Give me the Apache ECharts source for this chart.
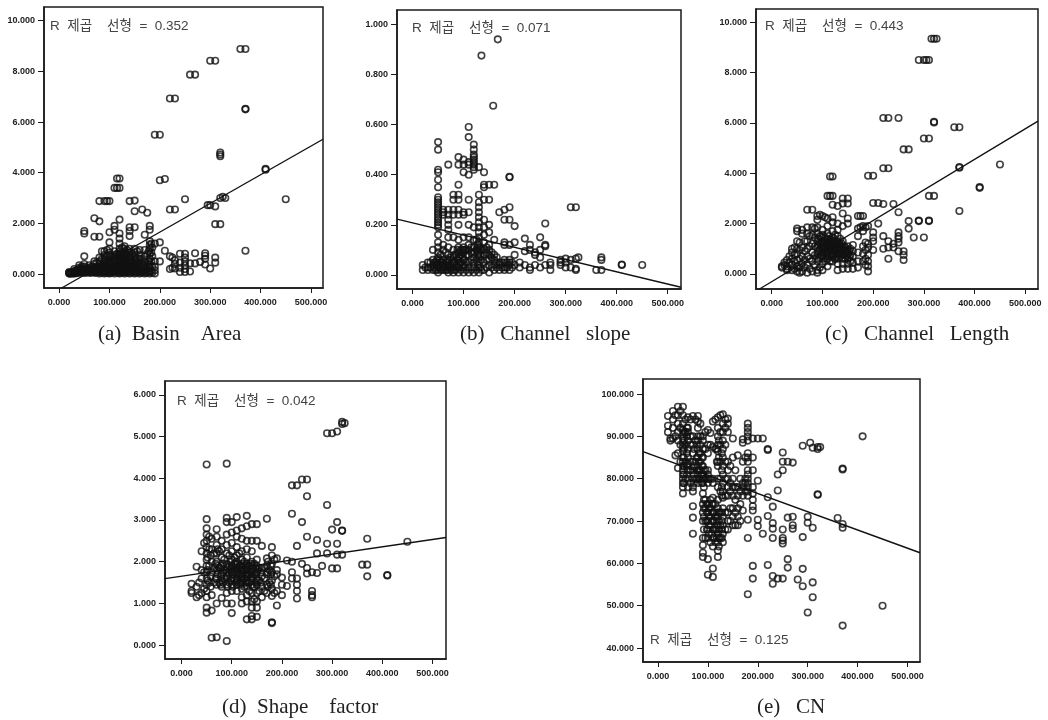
<!DOCTYPE html>
<html><head><meta charset="utf-8">
<style>html,body{margin:0;padding:0;background:#fff}#c{width:1048px;height:720px}</style>
<script src="https://cdn.jsdelivr.net/npm/echarts@6/dist/echarts.min.js"></script>
</head><body><div id="c"></div>
<script>
// each row: x value, then the y values read at that x
const basinArea = [
[20,.02,.05,.08],[25,.03,.06],[30,.02,.08,.12,.2],[35,.03,.1,.16],[40,.05,.15,.25,.35],[45,.05,.2,.3],
[50,.05,.12,.2,.3,.4,.7,1.6,1.7],[55,.1,.2],[60,.05,.15,.25,.35],[65,.1,.2,.3],[70,.05,.15,.25,.4,.5,1.47,2.2],[75,.1,.3,.45],
[80,.02,.12,.22,.35,.5,.65,1.47,2.08,2.88],[85,.05,.3,.6,.9],[90,.02,.1,.2,.3,.45,.6,.75,.9,2.88],[95,.1,.35,.7,.95,2.88],
[100,.02,.12,.25,.4,.55,.7,.85,1,1.25,1.65,2.88],[105,.1,.3,.5,.7],[110,.02,.15,.3,.45,.6,.75,.9,1.75,1.9,3.4],[115,.2,.5,.8,3.4,3.77],
[120,.02,.1,.2,.3,.4,.5,.6,.7,.8,.9,1,1.2,1.4,1.6,2.15,3.4,3.77],[125,.05,.25,.45,.65,.85,1.05],
[130,.02,.1,.2,.3,.4,.5,.6,.7,.8,.9,1,1.1],[135,.05,.25,.5,.75,.95],[140,.02,.12,.25,.4,.55,.7,.85,1,1.5,1.7,1.85,2.88],[145,.1,.3,.5,.8],
[150,.02,.12,.25,.4,.55,.7,.85,1,1.85,2.48,2.9],[155,.1,.35,.6,.9],[160,.02,.15,.3,.45,.6,.75,.95],[165,.1,.4,2.55],
[170,.02,.15,.3,.5,.7,.95,1.55],[175,.1,.4,.8,2.42],[180,.02,.12,.25,.4,.6,.8,1,1.15,1.3,1.75,1.9],[185,.05,.3,.7,1.05],
[190,.02,.15,.3,.5,1.2],[200,.5,1.25],[210,.92,3.75],[200,3.7],[220,.2,.7,2.55,6.93],[225,.25,.65],[230,.22,.4,.55,2.55,6.93],
[240,.08,.25,.45,.8],[250,.08,.2,.35,.5,.65,.8,2.95],[260,.1,.42,7.87],[270,.42,.82,7.87],[280,.48],[290,.38,.6,.72,.82],[300,.22,2.72,8.42],
[310,.45,.65,2.67,1.97,8.42],[295,2.72],[320,1.97,3,4.65,4.72,4.8],[325,3.05],[330,3],[190,5.5],[200,5.5],[360,8.88],[370,8.88,6.52,6.5,.92],
[410,4.15,4.12],[450,2.95],
[22,.01,.04],[28,.02,.06],[33,.05,.12],[38,.08,.18],[43,.1,.22],[48,.08,.25],[53,.05,.15],[58,.08,.22],[63,.05,.18],[68,.08,.2],[73,.05,.2],[78,.08,.25],
[83,.08,.2],[88,.1,.4],[93,.05,.25,.55],[98,.05,.2,.5],[103,.05,.2,.4],[108,.08,.25,.55],[113,.08,.35,.65],[118,.05,.15,.35,.75],[123,.1,.3,.55],[128,.08,.35,.6],
[133,.12,.4,.8],[138,.1,.35,.65],[143,.05,.2,.45,.7],[148,.08,.35],[153,.05,.2,.5],[158,.08,.4],[163,.05,.25,.6],[168,.08,.35],[173,.05,.2],[178,.08,.3,.5,.9],[183,.12,.5,.85,1.2]
];
const channelSlope = [
[20,.02,.04],[30,.02,.03,.05],[40,.02,.04,.06,.1],
[50,.01,.03,.05,.07,.09,.11,.13,.16,.19,.2,.21,.22,.23,.24,.25,.26,.27,.28,.29,.3,.31,.35,.38,.41,.42,.5,.53],
[60,.02,.04,.06,.1,.12,.24,.25,.26],[70,.01,.03,.05,.08,.11,.15,.18,.2,.22,.24,.26,.44],
[80,.01,.03,.05,.07,.1,.15,.24,.26,.3,.32],[90,.01,.03,.05,.07,.09,.11,.14,.2,.24,.26,.3,.32,.36,.44,.47],
[100,.01,.03,.06,.09,.11,.15,.24,.25,.41,.44,.46],[110,.01,.03,.05,.08,.1,.12,.15,.2,.25,.3,.4,.44,.45,.55,.59],
[120,.01,.03,.05,.07,.09,.11,.14,.19,.42,.43,.44,.45,.46,.47,.48,.5,.52],[125,.02,.06,.1,.14],
[130,.01,.03,.05,.07,.09,.11,.13,.15,.17,.19,.21,.23,.25,.27,.29,.32,.43],[135,.02,.06,.1,.875],
[140,.02,.05,.08,.1,.13,.16,.19,.22,.3,.35,.36,.41],[150,.01,.04,.06,.08,.1,.12,.17,.2,.3,.36],[155,.03,.07,.09],
[160,.02,.04,.06,.08,.14,.36],[158,.675],[167,.94],[170,.02,.04,.05,.25],[180,.02,.03,.05,.06,.12,.13,.22,.26],
[190,.02,.04,.05,.06,.12,.22,.27,.39,.392],[200,.04,.08,.13,.195],[210,.03,.05],[220,.04,.095,.145],[230,.02,.03,.1,.12],
[240,.04,.08,.09],[250,.03,.07,.1,.15],[260,.04,.115,.12,.205],[270,.02,.04,.05],[290,.04,.05,.06],[300,.03,.05,.065],
[310,.03,.06,.27],[320,.02,.025,.065,.27],[325,.07],[360,.02],[370,.02,.06,.07],[410,.04,.042],[450,.04],
[25,.03],[35,.03,.05],[45,.02,.05],[55,.02,.05,.08],[65,.02,.05,.09],[75,.02,.04,.07],[85,.02,.04,.08],[95,.02,.05,.08,.1],[105,.02,.05,.08,.1],[115,.02,.06,.09,.11],
[128,.04,.08,.1,.12],[133,.03,.08,.11],[145,.03,.06,.09,.11],[165,.03,.05,.07],[175,.03,.05],[185,.03,.05],[195,.03,.05],
[43,.03,.05],[48,.02,.04,.06],[53,.03,.06],[58,.03,.05],[63,.03,.04],[68,.02,.04,.06],[72,.03,.06],[78,.03,.05],[82,.02,.05,.08],[88,.03,.06,.1],[92,.04,.07],[98,.04,.07,.1],[102,.04,.1]
];
const channelLength = [
[20,.3,.25],[25,.35,.45],[30,.2,.3,.55,.15],[35,.45,.7],[40,.15,.35,.6,.85,1],[45,.2,.5,.75,1.05],
[50,.1,.3,.55,.8,1,1.3,1.7,1.8],[55,.05,.25,.6,.95,1.25],[60,.1,.4,.7,1.05,1.6,1.75],[65,.25,.55,.9,1.3],
[70,.05,.35,.7,1,1.3,1.6,1.85,2.55],[75,.2,.6,1.1,1.5],[80,.1,.5,.85,1.2,1.55,1.85,2.55],[85,.35,.75,1.1,1.45,1.8],
[90,.05,.15,.5,.8,1.05,1.3,1.6,1.85,2.15,2.3],[95,.25,.65,.95,1.2,1.5,2.35],[100,.15,.4,.7,.9,1.1,1.3,1.55,1.75,2.3],[105,.5,.85,1.05,1.25,1.45,2.25],
[110,.3,.6,.8,.95,1.1,1.25,1.4,1.6,1.9,2.2,3.1],[115,.5,.75,1,1.2,1.35,3.1,3.87],[120,.5,.65,.8,.95,1.1,1.25,1.45,1.7,2.05,2.25,2.75,3.1,3.87],
[125,.6,.85,1.05,1.3,1.55],[130,.15,.4,.6,.8,1,1.15,1.3,1.5,1.75,2.7,2],[135,.7,.9,1.1,1.4],[140,.2,.4,.6,.8,.95,1.1,1.3,1.9,2.8,3,2.4],
[145,.6,.85,1.05],[150,.2,.4,.6,.8,.95,1.1,2,2.2,2.8,3],[155,.5,.75,1],[160,.2,.45,.7,.9,1.15],[170,.25,.5,.85,1.5,1.8,2.3],[175,2.3,1.85],[180,.5,.8,1.1,1.7,1.9,2.3],
[185,.35,.6,.95,1.25,1.85],[190,.1,.3,.5,.75,1.05,1.2,1.9,3.9],[200,.95,1.3,1.45,1.65,2.82,3.9],[210,2,2.82],[220,1,1.5,2.78,4.2,6.2],[230,.6,1.05,1.3,4.2,6.2],
[240,1.05,1.2,2.78],[250,.9,1.25,1.4,1.5,1.65,2.45,6.2],[260,.55,.75,.9,4.95],[270,1.8,2.1,4.95],[280,1.45],[290,2.1,2.12,8.5],[300,1.45,5.38,8.5],
[305,8.5],[310,2.1,2.12,3.1,5.38,8.5],[315,9.35],[320,3.1,6.05,6.02,9.35],[325,9.35],[360,5.83],[370,5.83,4.25,4.22,2.5],[410,3.45,3.42],[450,4.35],
[92,.6,.9,1.15,1.4],[98,.75,1,1.25,1.45],[102,.6,.85,1.05,1.2],[108,.7,.95,1.15,1.35],[112,.85,1.05,1.2,1.5],[118,.7,.9,1.05,1.3],[123,.75,.95,1.15,1.4],[128,.7,.9,1.05,1.2],[133,.8,1,1.2],[138,.8,1,1.2],[143,.75,.95,1.1],[148,.7,.9],[153,.65,.9]
];
const shapeFactor = [
[20,1.3,1.25,1.47],[30,1.15,1.4,1.88],[35,1.2,1.5],[40,1.25,1.6,1.8,2.25],[45,1.35,1.75,2.45],
[50,.78,.9,1.15,1.3,1.45,1.6,1.75,1.9,2.05,2.2,2.35,2.5,2.65,2.8,3.02,4.33],[55,1.5,1.9,2.3,2.6],[60,.83,.18,1.2,1.75,2,2.3,2.55],
[70,.19,1,1.45,1.6,1.8,2,2.2,2.4,2.6,2.78],[75,1.5,1.85,2.25],[80,1.13,1.4,1.55,1.7,1.9,2.1,2.3,2.5],[85,1.6,1.8,2.05],
[90,.1,1,1.25,1.45,1.6,1.75,1.95,2.2,2.4,2.65,2.95,3.05,4.35],[95,1.5,1.7,1.9,2.15],[100,.77,1,1.3,1.45,1.6,1.75,1.9,2.05,2.25,2.45,2.7,2.95],
[105,1.55,1.75,1.95,2.1],[110,1.3,1.45,1.6,1.7,1.85,2,2.15,2.35,2.6,2.75,3.07],[115,1.5,1.7,1.9,2.2],
[120,1,1.15,1.35,1.5,1.6,1.7,1.8,1.9,2.05,2.25,2.55,2.8],[125,1.4,1.6,1.8,2],[130,.62,1.05,1.2,1.4,1.55,1.65,1.75,1.85,1.95,2.1,2.3,2.5,2.85,3.1],
[135,1.3,1.5,1.7,1.9],[140,.62,.7,.9,1.05,1.25,1.45,1.6,1.75,1.9,2,2.25,2.5,2.9],[145,1.1,1.4,1.7,1.95],[150,.68,.9,1.05,1.25,1.45,1.6,1.75,1.9,2.05,2.5,2.9],
[155,1.3,1.55,1.85],[160,1.15,1.4,1.65,1.85,2.38],[170,1.25,1.45,1.7,1.9,2.08,3.03],[175,1.5,1.8],[180,.55,.53,1.18,1.35,1.55,1.75,1.95,2.15,2.35],[185,1.25,1.65,2.05],
[190,.95,1.3,1.7,1.8,2.08],[200,1.2,1.45,1.62],[210,1.42,2.03],[220,1.6,1.75,2,3.15,3.83],[230,1.12,1.3,1.45,1.6,2.38,3.83],[240,1.95,2.95,3.97],
[250,1.72,1.85,2.6,3.57,3.97],[260,1.15,1.2,1.3,1.75],[270,1.73,2.2,2.52],[280,1.9],[290,2.2,2.43,3.36,5.08],[300,1.84,2.77,5.08],[310,1.84,2.17,2.43,2.95,5.12],
[320,2.17,2.75,2.74,5.3,5.35],[325,5.32],[360,1.93],[370,1.65,1.93,2.55],[410,1.67,1.68],[450,2.48],
[92,1.4,1.65,1.85],[98,1.55,1.8,2],[102,1.4,1.7,1.85],[108,1.5,1.8,1.95],[112,1.55,1.75,1.95],[118,1.45,1.65,1.85],[122,1.55,1.75,1.95],[128,1.5,1.7,1.9],[132,1.5,1.7,1.8],[138,1.55,1.75,1.95],[142,1.4,1.65,1.85],[148,1.5,1.7,1.85],
[52,1.55,1.8,2.1],[58,1.4,1.65,2.15],[65,1.5,1.85,2.2],[68,1.6,1.95],[72,1.7,1.9,2.3],[78,1.45,1.65,1.85],[82,1.5,1.75,1.95],[152,1.55,1.8],[158,1.5,1.75],[165,1.3,1.6,1.85],[172,1.4,1.75,2],[178,1.45,1.7,1.9]
];
const curveNumber = [
[20,91,92.5,94.8],[25,89,89.5],[30,89.5,92,94,96],[35,85.5,90,95],[40,82.5,86,89,91,93,95,97],[45,84,88,92,96],
[50,76.5,78,79,80,81,82,83,84,85,86.5,87.5,88.5,89.5,90.5,91.5,93,95,97],[55,80,84,88,91,94],
[60,78,80,82,83.5,85,87,89,91,92,94.5],[65,79,82,84,88,90,94],[70,67,70.8,73.5,77,78,80,82,84,86,88,90,94.8],[75,80,84,89,94],
[80,79,81,83,85,87,89,90,92,93.5,94.8],[85,80,82,84,86,88,90,93],[90,61.5,62.5,64.3,66,70,72,74,76.5,79,80,81,83,85,87,89,90],[95,66,70,73,75,80,82,87,91],
[100,61,57.3,66,68,70,72,74,79,80,81,82,86,88,91.5],[105,65,69,71,73,75,80,88,90.8],[110,58.8,56.8,64,66,68,70,72,74,75.5,79,80,87.5,93.5],
[115,65,68,71,74,87,94],[120,61.5,63,65,67,69,71,73,75,78,80,83,84,86.5,88,90,92,94.5],[125,66,69,72,77,80,84,88,91,95],
[130,65,67,69,71,73,75.5,77,79,81,83,85,87,89,91,93,95.2],[135,68,72,76,80,84,88,92,94],[140,68,70,72,76,78,80,82,84,91,94.2,93],
[150,69,71,73,76,78,80,85,89.5],[160,69,71,73,76,78,85.5],[170,72.5,76,78,79,84,88.5,89.3],[180,66,70.3,76,77,78,79,80,81,82,84,85,86,89,90,91,92,93],
[190,72.5,73.5,75,76.5,78,82,85,59.4,56.4,89.5],[200,68.8,70.3,79.5,89.5],[180,52.7],[210,67,89.5],[220,59.6,71.2,75.6,86.8,87],[230,55.2,57,66,68.2,69.5,73.4],
[240,56.4,77.2,81],[250,56.4,64.7,65.4,66,68,82,84,86.2],[260,59,61,70.8,84],[270,68.2,69,71,83.8],[280,56.2],[290,54.6,58.7,66.2,87.8],[300,48.4,69.6,71],
[305,88.5],[310,52,55.5,68.4,87.3],[320,76.2,76.3,87,87.5],[325,87.5],[360,70.7],[370,45.3,68.4,69.3,82.2,82.4],[410,90],[450,50],
[52,79,81,83,85,87,89,91],[58,81,83,86,90,92],[72,79,81,83,87],[78,80,82,85,88],[82,80,82,84,86],[88,79,81,83,85],[92,68,71,73,75,78,80,82],[98,68,70,72,74],[102,67,69,71,73,80],[108,67,70,72,74],[112,66,68,70,72],[118,66,68,70,72,84,87],[122,64,66,68,70,72,85,89],[128,66,68,70,72,76,78,82,86],
[145,70,73,77,79,83],[155,69,72,75,78,82],[165,70,74,77,80],[175,77,79,80,85]
];
// regression line end points, as read where the line meets the frame
const fitA = [[5,-.55],[524,5.32]];
const fitB = [[-30.5,.223],[526,-.049]];
const fitC = [[-24,-.6],[525,6.07]];
const fitD = [[-33,1.595],[527,2.58]];
const fitE = [[-30,86.4],[525,62.5]];
const xTicks = [0,100,200,300,400,500];
const yTicksA = [0,2,4,6,8,10];
const yTicksB = [0,.2,.4,.6,.8,1];
const yTicksD = [0,1,2,3,4,5,6];
const yTicksE = [40,50,60,70,80,90,100];
const r2Labels = ['R  제곱    선형  =  0.352','R  제곱    선형  =  0.071','R  제곱    선형  =  0.443','R  제곱    선형  =  0.042','R  제곱    선형  =  0.125'];
const captions = ['(a)  Basin    Area','(b)   Channel   slope','(c)   Channel   Length','(d)  Shape    factor','(e)   CN'];

const flat = rows => rows.flatMap(([x,...ys]) => ys.map(y => [x,y]));
const panels = [
 {d:basinArea,f:fitA,t:yTicksA,l:44,tp:7,r:323,b:288,x:[-30,524],y:[-.55,10.54],rp:[50,20],cp:[98,324]},
 {d:channelSlope,f:fitB,t:yTicksB,l:397,tp:10,r:681,b:289,x:[-30.5,526],y:[-.056,1.057],rp:[412,22],cp:[460,324]},
 {d:channelLength,f:fitC,t:yTicksA,l:756,tp:9,r:1038,b:289,x:[-31,525],y:[-.6,10.53],rp:[765,20],cp:[825,324]},
 {d:shapeFactor,f:fitD,t:yTicksD,l:165,tp:381,r:446,b:659,x:[-33,527],y:[-.33,6.33],rp:[177,395],cp:[222,697]},
 {d:curveNumber,f:fitE,t:yTicksE,l:643,tp:379,r:920,b:662,x:[-30,525],y:[36.7,103.55],rp:[650,634],cp:[757,697]}
];
const ink = '#1a1a1a';
const tickFont = {fontFamily:'Liberation Sans',fontSize:9,color:'#222',fontWeight:'bold'};
const option = {
 animation:false,
 grid:panels.map(p=>({left:p.l,top:p.tp,width:p.r-p.l,height:p.b-p.tp,show:true,borderColor:ink,borderWidth:1.5,backgroundColor:'#fff'})),
 xAxis:panels.map((p,i)=>({type:'value',gridIndex:i,min:p.x[0],max:p.x[1],splitLine:{show:false},
   axisLine:{show:true,onZero:false,lineStyle:{color:ink,width:1.5}},
   axisTick:{show:true,length:5,customValues:xTicks,lineStyle:{color:ink,width:1}},
   axisLabel:{...tickFont,margin:10,customValues:xTicks,hideOverlap:false,formatter:v=>v.toFixed(3)}})),
 yAxis:panels.map((p,i)=>({type:'value',gridIndex:i,min:p.y[0],max:p.y[1],splitLine:{show:false},
   axisLine:{show:true,onZero:false,lineStyle:{color:ink,width:1.5}},
   axisTick:{show:true,length:6,customValues:p.t,lineStyle:{color:ink,width:1}},
   axisLabel:{...tickFont,margin:9,customValues:p.t,hideOverlap:false,formatter:v=>v.toFixed(3)}})),
 series:panels.flatMap((p,i)=>[
  {type:'scatter',xAxisIndex:i,yAxisIndex:i,data:flat(p.d),symbol:'circle',symbolSize:6.5,
   itemStyle:{color:'transparent',borderColor:'#111',borderWidth:1.6},silent:true},
  {type:'line',xAxisIndex:i,yAxisIndex:i,data:p.f,showSymbol:false,lineStyle:{color:'#111',width:1.4},silent:true}
 ]),
 graphic:panels.flatMap((p,i)=>[
  {type:'text',left:p.rp[0],top:p.rp[1],style:{text:r2Labels[i],font:'13.5px "Liberation Sans","Noto Sans CJK KR"',fill:'#444'}},
  {type:'text',left:p.cp[0],top:p.cp[1],style:{text:captions[i],font:'21px "Liberation Serif"',fill:'#222'}}
 ])
};
echarts.init(document.getElementById('c')).setOption(option);
</script></body></html>
